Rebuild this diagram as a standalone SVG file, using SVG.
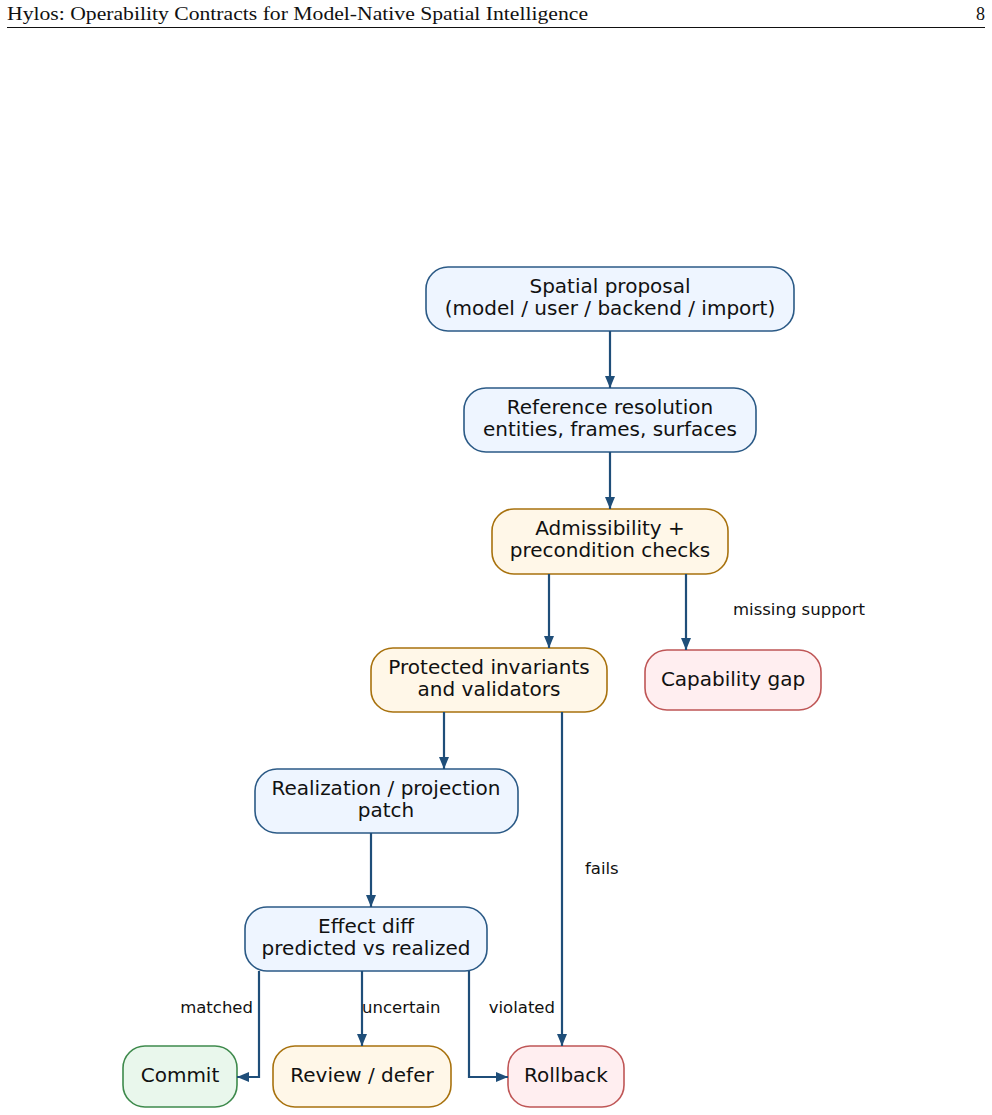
<svg xmlns="http://www.w3.org/2000/svg" width="992" height="1115" viewBox="0 0 992 1115">
<style>
.hdr{font-family:"Liberation Serif","DejaVu Serif",serif;font-size:18px;fill:#111}
.n rect{stroke-width:1.6}
.n text{font-family:"DejaVu Sans",sans-serif;font-size:20px;fill:#111;text-anchor:middle}
.blue rect{fill:#eef5ff;stroke:#2b5a86}
.yel rect{fill:#fff7e8;stroke:#a8720e}
.red rect{fill:#ffeef0;stroke:#bf5656}
.grn rect{fill:#e9f7ec;stroke:#3e8a4c}
.e path{fill:none;stroke:#1f4e79;stroke-width:2.2}
.lbl{font-family:"DejaVu Sans",sans-serif;font-size:16.5px;fill:#111}
</style>
<defs>
<marker id="ah" viewBox="0 0 12 10" refX="12" refY="5" markerWidth="12" markerHeight="10" markerUnits="userSpaceOnUse" orient="auto">
<path d="M0,0 L12,5 L0,10 z" fill="#1f4e79"/>
</marker>
</defs>
<rect width="992" height="1115" fill="#fff"/>
<text class="hdr" x="7" y="20" textLength="581" lengthAdjust="spacingAndGlyphs">Hylos: Operability Contracts for Model-Native Spatial Intelligence</text>
<text class="hdr" x="985" y="20" text-anchor="end">8</text>
<line x1="7" y1="27.5" x2="985" y2="27.5" stroke="#111" stroke-width="1"/>

<g id="n1" class="n blue"><rect x="426" y="267" width="368" height="64" rx="22"/><text x="610" y="293">Spatial proposal</text><text x="610" y="315">(model / user / backend / import)</text></g>
<g id="n2" class="n blue"><rect x="464" y="388" width="292" height="64" rx="22"/><text x="610" y="414">Reference resolution</text><text x="610" y="436">entities, frames, surfaces</text></g>
<g id="n3" class="n yel"><rect x="492" y="509" width="236" height="65" rx="22"/><text x="610" y="535">Admissibility +</text><text x="610" y="557">precondition checks</text></g>
<g id="n4" class="n yel"><rect x="371" y="648" width="236" height="64" rx="22"/><text x="489" y="674">Protected invariants</text><text x="489" y="696">and validators</text></g>
<g id="n5" class="n red"><rect x="645" y="650" width="176" height="60" rx="22"/><text x="733" y="686">Capability gap</text></g>
<g id="n6" class="n blue"><rect x="255" y="769" width="263" height="64" rx="22"/><text x="386" y="795">Realization / projection</text><text x="386" y="817">patch</text></g>
<g id="n7" class="n blue"><rect x="245" y="907" width="242" height="64" rx="22"/><text x="366" y="933">Effect diff</text><text x="366" y="955">predicted vs realized</text></g>
<g id="n8" class="n grn"><rect x="123" y="1046" width="114" height="61" rx="22"/><text x="180" y="1082">Commit</text></g>
<g id="n9" class="n yel"><rect x="273" y="1046" width="178" height="61" rx="22"/><text x="362" y="1082">Review / defer</text></g>
<g id="n10" class="n red"><rect x="508" y="1046" width="116" height="61" rx="22"/><text x="566" y="1082">Rollback</text></g>

<g id="edges" class="e">
<path d="M610,331 V388" marker-end="url(#ah)"/>
<path d="M610,452 V509" marker-end="url(#ah)"/>
<path d="M549,574 V648" marker-end="url(#ah)"/>
<path d="M686,574 V650" marker-end="url(#ah)"/>
<path d="M444,712 V769" marker-end="url(#ah)"/>
<path d="M562,712 V1046" marker-end="url(#ah)"/>
<path d="M371,833 V907" marker-end="url(#ah)"/>
<path d="M259,971 V1077 H237" marker-end="url(#ah)"/>
<path d="M362,971 V1046" marker-end="url(#ah)"/>
<path d="M469,971 V1077 H508" marker-end="url(#ah)"/>
<text class="lbl" x="733" y="615">missing support</text>
<text class="lbl" x="585" y="874">fails</text>
<text class="lbl" x="253" y="1013" text-anchor="end">matched</text>
<text class="lbl" x="362" y="1013">uncertain</text>
<text class="lbl" x="555" y="1013" text-anchor="end">violated</text>
</g>
</svg>
